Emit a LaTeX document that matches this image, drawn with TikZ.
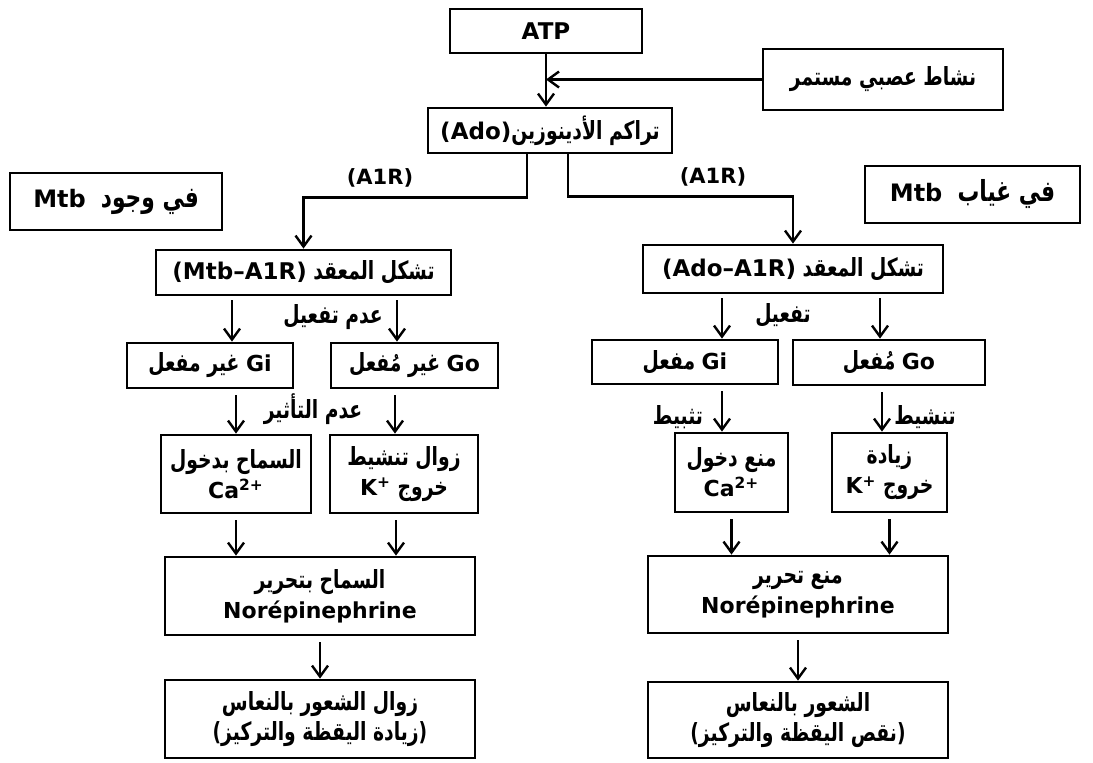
\documentclass[tikz,border=0pt]{standalone}
\usepackage{fontspec}
\usetikzlibrary{arrows.meta}
\TeXXeTstate=1
\setmainfont{DejaVu Sans}
\newfontfamily\arfont[Script=Arabic, FakeStretch=0.75]{DejaVu Sans}
\newfontfamily\latfont{DejaVu Sans}
\newcommand\AR[2][12.5]{{\fontsize{#1}{15}\arfont\bfseries\beginR #2\endR}}
\newcommand\LT[2][11]{\beginL{\fontsize{#1}{15}\latfont\bfseries #2}\endL}
\begin{document}
\begin{tikzpicture}[x=0.5pt,y=-0.5pt,
  box/.style={draw, line width=1.4pt, align=center, inner sep=0pt, font=\fontsize{11}{15}\selectfont},
  arr/.style={line width=1.2pt, -{Straight Barb[length=5.5pt,width=8pt]}},
  lab/.style={inner sep=0pt, font=\fontsize{11}{14}\selectfont}]
\useasboundingbox (0,0) rectangle (1093,762);
% boxes
\node[box, minimum width=96pt, minimum height=22pt] (atp) at (546,31) {\LT[11.5]{ATP}};
\node[box, minimum width=120pt, minimum height=30.5pt] (nash) at (883,79.5) {\AR{نشاط عصبي مستمر}};
\node[box, minimum width=122pt, minimum height=22.5pt] (ado) at (550,130.5) {\AR{تراكم الأدينوزين\LT[11.5]{(Ado)}}};
\node[box, minimum width=106pt, minimum height=28.5pt] (wuj) at (116,201.5) {\AR[14.5]{في وجود\ \ \LT[12]{Mtb}}};
\node[box, minimum width=107.5pt, minimum height=28.5pt] (ghiy) at (972.5,194.5) {\AR[14.5]{في غياب\ \ \LT[12]{Mtb}}};
\node[box, minimum width=147.5pt, minimum height=22.5pt] (cL) at (303.5,272.5) {\AR{تشكل المعقد \LT[11.5]{(Mtb–A1R)}}};
\node[box, minimum width=150pt, minimum height=24pt] (cR) at (793,269) {\AR{تشكل المعقد \LT[11.5]{(Ado–A1R)}}};
\node[box, minimum width=83pt, minimum height=22.5pt] (giL) at (210,365.5) {\AR{\LT{Gi} غير مفعل}};
\node[box, minimum width=83.5pt, minimum height=22.5pt] (goL) at (414.5,365.5) {\AR{\LT{Go} غير مُفعل}};
\node[box, minimum width=93pt, minimum height=22pt] (giR) at (685,362) {\AR{\LT{Gi} مفعل}};
\node[box, minimum width=96pt, minimum height=22.5pt] (goR) at (889,362.5) {\AR{\LT{Go} مُفعل}};
\node[box, minimum width=75pt, minimum height=39pt] (caL) at (236,474) {\AR{السماح بدخول}\\\LT{Ca\textsuperscript{2+}}};
\node[box, minimum width=74pt, minimum height=39pt] (kL) at (404,474) {\AR{زوال تنشيط}\\\AR{خروج \LT{K\textsuperscript{+}}}};
\node[box, minimum width=56.5pt, minimum height=39.5pt] (caR) at (731.5,472.5) {\AR{منع دخول}\\\LT{Ca\textsuperscript{2+}}};
\node[box, minimum width=57.5pt, minimum height=39.5pt] (kR) at (889.5,472.5) {\AR{زيادة}\\\AR{خروج \LT{K\textsuperscript{+}}}};
\node[box, minimum width=155pt, minimum height=39pt] (neL) at (320,596) {\AR{السماح بتحرير}\\\LT{Norépinephrine}};
\node[box, minimum width=150pt, minimum height=38.5pt] (neR) at (798,594.5) {\AR{منع تحرير}\\\LT{Norépinephrine}};
\node[box, minimum width=155pt, minimum height=39pt] (bL) at (320,719) {\AR{زوال الشعور بالنعاس}\\\AR{(زيادة اليقظة والتركيز)}};
\node[box, minimum width=150pt, minimum height=38pt] (bR) at (798,720) {\AR{الشعور بالنعاس}\\\AR{(نقص اليقظة والتركيز)}};
% labels
\node[lab] (a1l) at (380,178) {\LT[10.5]{(A1R)}};
\node[lab] (a1r) at (713,177) {\LT[10.5]{(A1R)}};
\node[lab] (l1) at (333,317) {\AR{عدم تفعيل}};
\node[lab] (l2) at (783,315) {\AR{تفعيل}};
\node[lab] (l3) at (313,409) {\AR{عدم التأثير}};
\node[lab] (l4) at (678,417) {\AR{تثبيط}};
\node[lab] (l5) at (925,417) {\AR{تنشيط}};
% x positions of arrows
\coordinate (xa) at (232,0);
\coordinate (xb) at (397,0);
\coordinate (xc) at (722,0);
\coordinate (xd) at (880,0);
\coordinate (xf) at (395,0);
\coordinate (xh) at (882,0);
\coordinate (xk) at (396,0);
% connectors
\draw[arr] (atp.south) -- (atp.south |- ado.north);
\draw[arr] (nash.west) -- (nash.west -| atp.south);
\draw[arr] ([xshift=-11.5pt]ado.south) -- ++(0,43) -| (cL.north);
\draw[arr] ([xshift=9pt]ado.south) -- ++(0,42) -| (cR.north);
\draw[arr, shorten <=2pt] (cL.south -| xa) -- (giL.north -| xa);
\draw[arr, shorten <=2pt] (cL.south -| xb) -- (goL.north -| xb);
\draw[arr, shorten <=2pt] (cR.south -| xc) -- (giR.north -| xc);
\draw[arr, shorten <=2pt] (cR.south -| xd) -- (goR.north -| xd);
\draw[arr, shorten <=3pt] (giL.south -| caL.north) -- (caL.north);
\draw[arr, shorten <=3pt] (goL.south -| xf) -- (kL.north -| xf);
\draw[arr, shorten <=3pt] (giR.south -| xc) -- (caR.north -| xc);
\draw[arr, shorten <=3pt] (goR.south -| xh) -- (kR.north -| xh);
\draw[arr, shorten <=3pt] (caL.south) -- (caL.south |- neL.north);
\draw[arr, shorten <=3pt] (kL.south -| xk) -- (neL.north -| xk);
\draw[arr, shorten <=3pt] (caR.south) -- (caR.south |- neR.north);
\draw[arr, shorten <=3pt] (kR.south) -- (kR.south |- neR.north);
\draw[arr, shorten <=3pt] (neL.south) -- (bL.north);
\draw[arr, shorten <=3pt] (neR.south) -- (bR.north);
\end{tikzpicture}
\end{document}
